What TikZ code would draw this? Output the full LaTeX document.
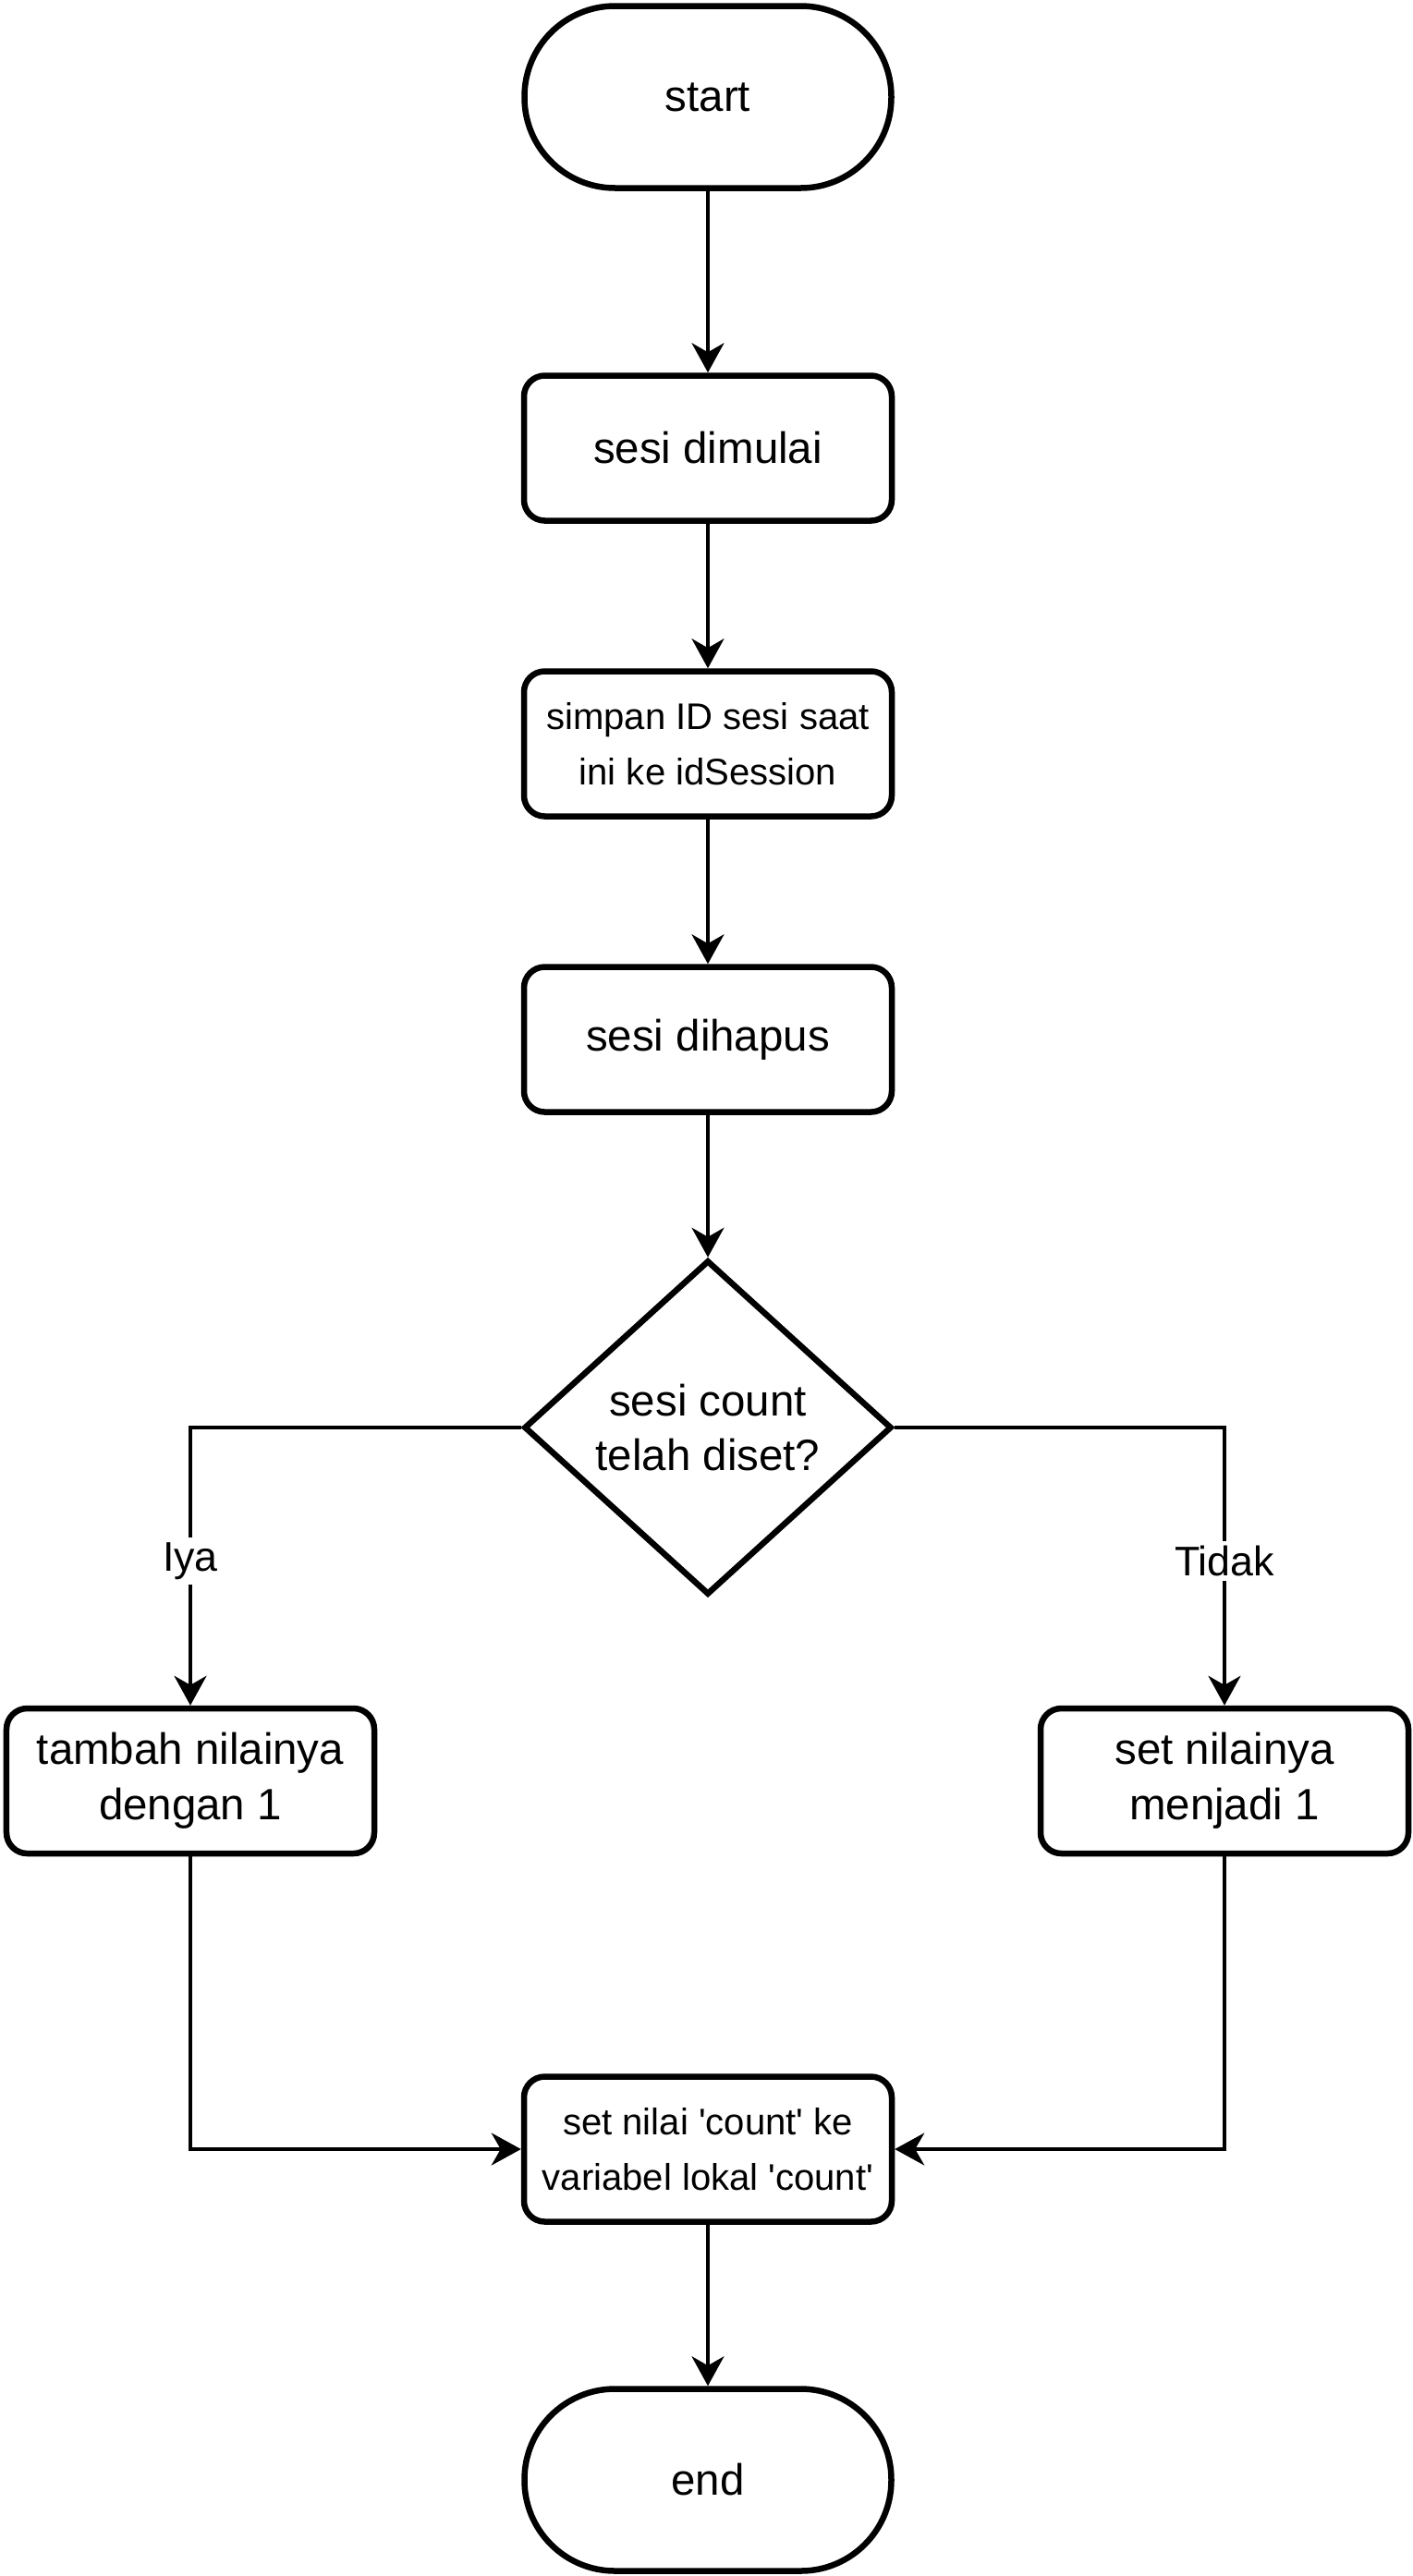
\documentclass[tikz,border=0pt]{standalone}
\usepackage{fontspec}
\setmainfont{Liberation Sans}
\usetikzlibrary{arrows.meta,shapes.geometric}

\begin{document}
\begin{tikzpicture}[
    terminal/.style={draw=black, line width=0.13cm, rounded corners=1.96cm, minimum width=7.94cm, minimum height=3.94cm, align=center, font=\fontsize{27}{34}\selectfont},
    process/.style={draw=black, line width=0.13cm, rounded corners=0.45cm, minimum width=7.96cm, minimum height=3.14cm, inner sep=0pt, align=center, font=\fontsize{27}{34}\selectfont},
    smallprocess/.style={process, font=\fontsize{22.8}{34}\selectfont},
    decision/.style={draw=black, line width=0.13cm, diamond, minimum width=7.96cm, minimum height=7.24cm, inner sep=0pt, align=center, font=\fontsize{27}{34}\selectfont},
    flow/.style={line width=0.07cm, -{Stealth[length=0.64cm, width=0.7cm, inset=0.2cm]}},
    branchlabel/.style={fill=white, inner sep=3pt, font=\fontsize{25.5}{30}\selectfont}
]
\useasboundingbox (0,0) rectangle (30.56,-55.76);

\node[terminal] (start) at (15.32,-2.10) {start};
\node[process] (dimulai) at (15.32,-9.70) {sesi dimulai};
\node[smallprocess] (simpan) at (15.32,-16.10) {simpan ID sesi saat\\ini ke idSession};
\node[process] (dihapus) at (15.32,-22.50) {sesi dihapus};
\node[decision] (cek) at (15.32,-30.90) {sesi count\\telah diset?};
\node[process] (tambah) at (4.12,-38.55) {tambah nilainya\\dengan 1};
\node[process] (setsatu) at (26.50,-38.55) {set nilainya\\menjadi 1};
\node[smallprocess] (lokal) at (15.32,-46.52) {set nilai \textquotesingle count\textquotesingle{} ke\\variabel lokal \textquotesingle count\textquotesingle};
\node[terminal] (end) at (15.32,-53.68) {end};

\draw[flow] (start) -- (dimulai);
\draw[flow] (dimulai) -- (simpan);
\draw[flow] (simpan) -- (dihapus);
\draw[flow] (dihapus) -- (cek);
\draw[flow] (cek.west) -| node[branchlabel, pos=0.74] {Iya} (tambah.north);
\draw[flow] (cek.east) -| node[branchlabel, pos=0.74] {Tidak} (setsatu.north);
\draw[flow] (tambah.south) |- (lokal.west);
\draw[flow] (setsatu.south) |- (lokal.east);
\draw[flow] (lokal) -- (end);
\end{tikzpicture}
\end{document}
